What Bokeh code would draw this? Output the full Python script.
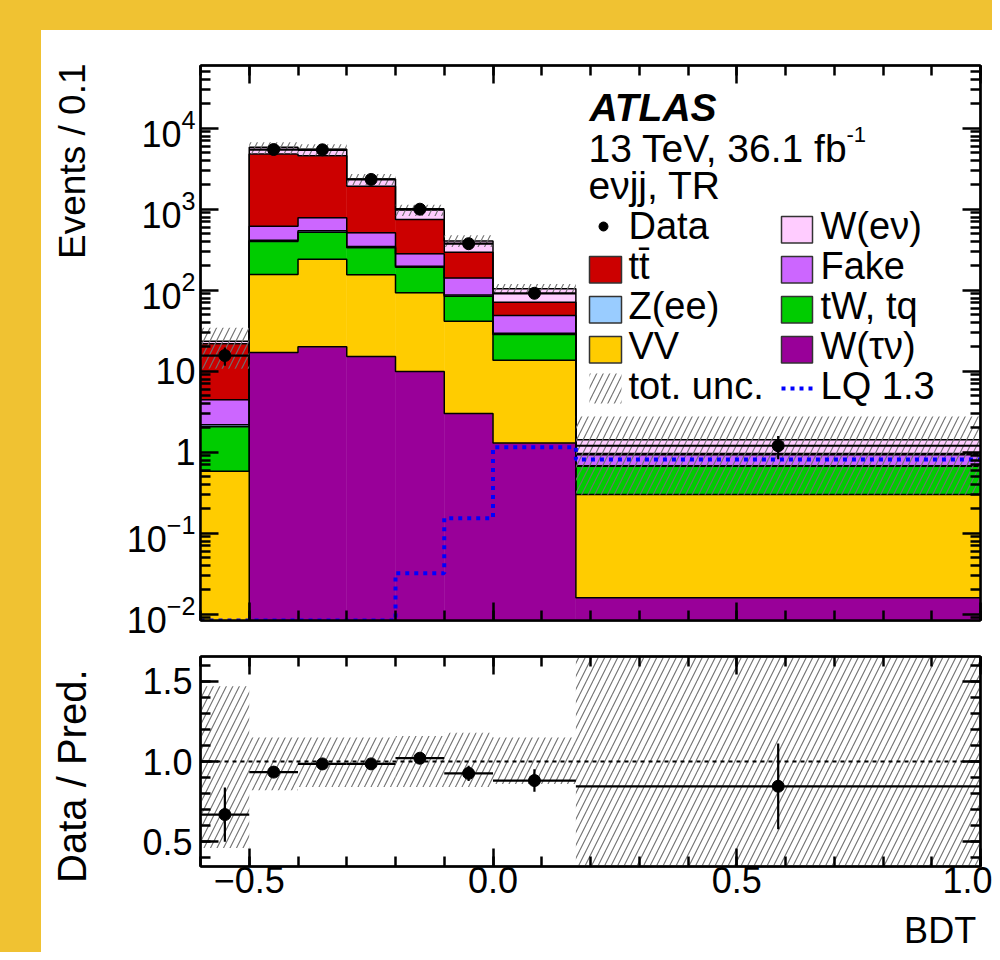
import numpy as np
from bokeh.plotting import figure
from bokeh.models import (FixedTicker, LogAxis, LinearAxis, Label, Span,
                          CustomJSTickFormatter, Spacer)
from bokeh.layouts import column, row
from bokeh.embed import file_html
from bokeh.resources import INLINE

FONT = "Liberation Sans"

# ---------------- data ----------------
bin_edges = [-0.6, -0.5, -0.4, -0.3, -0.2, -0.1, 0.0, 0.17, 1.0]
w_taunu = [0.0, 17.0, 20.0, 15.2, 9.9, 3.0, 1.3, 0.016]
vv      = [0.58, 139.0, 221.0, 140.0, 83.0, 38.4, 12.3, 0.284]
tw_tq   = [1.48, 242.0, 279.0, 179.0, 99.0, 42.6, 14.8, 0.37]
z_ee    = [0.12, 15.0, 20.0, 11.0, 6.0, 3.0, 0.9, 0.01]
fake    = [2.26, 204.0, 243.0, 165.0, 83.0, 54.0, 19.4, 0.25]
ttbar   = [17.4, 4200.0, 3780.0, 1410.0, 465.0, 153.0, 22.3, 0.03]
w_enu   = [1.5, 1020.0, 930.0, 445.0, 234.0, 111.0, 33.0, 0.46]
data     = [15.6, 5450.0, 5410.0, 2330.0, 1000.0, 375.0, 91.6, 1.2]
data_err = [3.95, 74.0, 74.0, 48.0, 32.0, 19.4, 7.3, 0.38]
unc_up = [0.47, 0.15, 0.15, 0.15, 0.16, 0.18, 0.15, 0.94]
unc_dn = [0.54, 0.18, 0.16, 0.16, 0.16, 0.16, 0.14, 0.79]
lq_13 = [0.0, 0.0, 0.0, 0.0, 0.032, 0.153, 1.15, 0.81]

names  = ["W(\u03c4\u03bd)", "VV", "tW, tq", "Z(ee)", "Fake", "tt\u0304", "W(e\u03bd)"]
colors = ["#990099", "#FFCC00", "#00CC00", "#99CCFF", "#CC66FF", "#CC0000", "#FFCCFF"]
stack  = [w_taunu, vv, tw_tq, z_ee, fake, ttbar, w_enu]

x_major = [-0.5, 0.0, 0.5, 1.0]
ratio_major = [0.5, 1.0, 1.5]

# ---------------- geometry (page pixels) ----------------
X0, X1 = -0.6, 1.0
LOG_TOP, LOG_BOT = 4.774, -2.078
R_TOP, R_BOT = 1.656, 0.344
MX0, MX1 = 200.0, 980.0          # frame left/right
MY0, MY1 = 65.0, 620.0           # main frame top/bottom
YEL = "#F0C232"
HATCH = dict(hatch_pattern="/", hatch_color="#707070", hatch_scale=13, hatch_weight=1.1)

PAGE_W, PAGE_H = 992, 952
TOP_BAR, LEFT_BAR, STRIP_W = 30, 41, 60
FIG_X = LEFT_BAR + STRIP_W                    # 101
FIG_W = PAGE_W - FIG_X                        # 891
BODY_H = PAGE_H - TOP_BAR                     # 922
MAIN_H = 35 + 555 + 22
RATIO_H = 14 + 210 + 41
BDT_H = BODY_H - MAIN_H - RATIO_H


def shift(size):
    # alphabetic baseline correction measured for this renderer
    return 0.31 * size


def dx(px):
    return X0 + (px - MX0) / (MX1 - MX0) * (X1 - X0)


def dy(py):
    return 10 ** (LOG_TOP - (py - MY0) / (MY1 - MY0) * (LOG_TOP - LOG_BOT))


def style_axis(ax, size="36px", standoff=8, labels=True):
    ax.axis_line_width = 2.5
    ax.axis_line_color = "black"
    ax.major_tick_in = 18
    ax.major_tick_out = 0
    ax.minor_tick_in = 10
    ax.minor_tick_out = 0
    ax.major_tick_line_width = 2.5
    ax.minor_tick_line_width = 2.5
    ax.major_tick_line_color = "black"
    ax.minor_tick_line_color = "black"
    ax.major_label_text_font = FONT
    ax.major_label_text_color = "black"
    ax.major_label_standoff = standoff
    if labels:
        ax.major_label_text_font_size = size
    else:
        ax.major_label_text_font_size = "0px"
        ax.formatter = CustomJSTickFormatter(code="return '';")


def blank_fig(w, h):
    f = figure(width=w, height=h, x_range=(0, w), y_range=(0, h),
               output_backend="svg", toolbar_location=None, min_border=0,
               x_axis_location=None, y_axis_location=None)
    f.grid.visible = False
    f.outline_line_color = None
    f.background_fill_color = "white"
    f.border_fill_color = "white"
    return f


left = np.array(bin_edges[:-1])
right = np.array(bin_edges[1:])
centers = (left + right) / 2.0
FLOOR = 1e-5

# ---------------- main panel ----------------
p = figure(width=FIG_W, height=MAIN_H, x_range=(X0, X1),
           y_range=(10 ** LOG_BOT, 10 ** LOG_TOP), y_axis_type="log",
           output_backend="svg", toolbar_location=None,
           min_border_left=int(MX0 - FIG_X), min_border_right=int(PAGE_W - MX1),
           min_border_top=35, min_border_bottom=22)
p.xgrid.visible = False
p.ygrid.visible = False
p.outline_line_color = "black"
p.outline_line_width = 2
p.background_fill_color = "white"
p.border_fill_color = "white"

xt = FixedTicker(ticks=x_major, minor_ticks=[round(X0 + 0.1 * i, 2) for i in range(17)])
yt = FixedTicker(ticks=[10.0 ** k for k in range(-2, 5)],
                 minor_ticks=[m * 10.0 ** k for k in range(-3, 5) for m in range(2, 10)])

p.xaxis.ticker = xt
p.yaxis.ticker = yt
style_axis(p.xaxis[0], labels=False)
style_axis(p.yaxis[0], size="36px", standoff=5)
p.yaxis[0].major_label_overrides = {1: "1", 10: "10"}
ax_r = LogAxis(ticker=yt)
style_axis(ax_r, labels=False)
p.add_layout(ax_r, "right")
ax_t = LinearAxis(ticker=xt)
style_axis(ax_t, labels=False)
p.add_layout(ax_t, "above")

cum = np.zeros(len(left))
tops = []
for vals, col in zip(stack, colors):
    top = cum + np.array(vals)
    p.quad(left=left, right=right, bottom=np.maximum(cum, FLOOR),
           top=np.maximum(top, FLOOR), fill_color=col, line_color=col, line_width=0.5)
    tops.append(top)
    cum = top
total = cum
for top in tops:
    yy = list(np.maximum(top, FLOOR))
    p.step(x=bin_edges, y=yy + [yy[-1]], mode="after", line_color="black", line_width=1.5)

# uncertainty band
p.quad(left=left, right=right, bottom=total * (1 - np.array(unc_dn)),
       top=total * (1 + np.array(unc_up)), fill_color="white", fill_alpha=0,
       line_color=None, **HATCH)

# signal
ymin = 10 ** LOG_BOT
lq_plot = list(np.maximum(np.array(lq_13), ymin))
p.step(x=bin_edges, y=lq_plot + [lq_plot[-1]], mode="after",
       line_color="#0000FF", line_width=4, line_dash="4 5")

# data
d = np.array(data)
de = np.array(data_err)
p.segment(x0=left, x1=right, y0=d, y1=d, line_color="black", line_width=2.2)
p.segment(x0=centers, x1=centers, y0=d - de, y1=d + de, line_color="black", line_width=2.2)
p.scatter(x=centers, y=d, size=12, color="black")


def lab(px, py, text, size=38, style="normal", align="left"):
    p.add_layout(Label(x=dx(px), y=dy(py - shift(size)), text=text, text_font=FONT,
                       text_font_size=f"{size}px", text_font_style=style, text_align=align,
                       text_baseline="alphabetic", text_color="black"))


lab(589, 119.5, "ATLAS", size=39, style="bold italic")
lab(588, 160, "13 TeV, 36.1 fb", size=39)
lab(846, 141, "-1", size=22)
lab(588, 197, "e\u03bdjj, TR", size=39)

# legend
rows_base = [237, 277, 317, 357, 397]
left_items = [("Data", None), (names[5], colors[5]), (names[3], colors[3]),
              (names[1], colors[1]), ("tot. unc.", "hatch")]
right_items = [(names[6], colors[6]), (names[4], colors[4]), (names[2], colors[2]),
               (names[0], colors[0]), ("LQ 1.3", "lq")]
for (txt, kind), base in zip(left_items, rows_base):
    if kind is None:
        p.scatter(x=[dx(603)], y=[dy(base - 11)], size=9, color="black")
    elif kind == "hatch":
        p.quad(left=[dx(589)], right=[dx(621)], top=[dy(base - 24)], bottom=[dy(base + 6)],
               fill_color="white", fill_alpha=0, line_color=None, **HATCH)
    else:
        p.quad(left=[dx(589)], right=[dx(621)], top=[dy(base - 21)], bottom=[dy(base + 5.5)],
               fill_color=kind, line_color="#333333", line_width=1.5)
    lab(628, base, txt)
for (txt, kind), base in zip(right_items, rows_base):
    if kind == "lq":
        p.line(x=[dx(781), dx(813)], y=[dy(base - 9)] * 2, line_color="#0000FF",
               line_width=4, line_dash="4 5")
    else:
        p.quad(left=[dx(781)], right=[dx(812)], top=[dy(base - 21)], bottom=[dy(base + 5.5)],
               fill_color=kind, line_color="#333333", line_width=1.5)
    lab(820, base, txt)

# ---------------- ratio panel ----------------
r = figure(width=FIG_W, height=RATIO_H, x_range=p.x_range, y_range=(R_BOT, R_TOP),
           output_backend="svg", toolbar_location=None,
           min_border_left=int(MX0 - FIG_X), min_border_right=int(PAGE_W - MX1),
           min_border_top=14, min_border_bottom=41)
r.xgrid.visible = False
r.ygrid.visible = False
r.outline_line_color = "black"
r.outline_line_width = 2
r.background_fill_color = "white"
r.border_fill_color = "white"

rt = FixedTicker(ticks=ratio_major, minor_ticks=[round(0.3 + 0.1 * i, 2) for i in range(15)])
r.xaxis.ticker = xt
r.yaxis.ticker = rt
style_axis(r.xaxis[0], size="36px", standoff=0)
r.xaxis[0].formatter = CustomJSTickFormatter(
    code="return (Math.abs(tick) < 1e-9 ? '0.0' : tick.toFixed(1)).replace('-', '\\u2212');")
style_axis(r.yaxis[0], size="36px", standoff=8)
r.yaxis[0].formatter = CustomJSTickFormatter(code="return tick.toFixed(1);")
rr = LinearAxis(ticker=rt)
style_axis(rr, labels=False)
r.add_layout(rr, "right")
rtop = LinearAxis(ticker=xt)
style_axis(rtop, labels=False)
r.add_layout(rtop, "above")

r.quad(left=left, right=right, bottom=1 - np.array(unc_dn), top=1 + np.array(unc_up),
       fill_color="white", fill_alpha=0, line_color=None, **HATCH)
r.add_layout(Span(location=1.0, dimension="width", line_color="black",
                  line_width=2, line_dash="4 4"))
ratio = d / total
ratio_err = de / total
r.segment(x0=left, x1=right, y0=ratio, y1=ratio, line_color="black", line_width=2.2)
r.segment(x0=centers, x1=centers, y0=ratio - ratio_err, y1=ratio + ratio_err,
          line_color="black", line_width=2.2)
r.scatter(x=centers, y=ratio, size=12, color="black")

# ---------------- axis titles (separate strips so they are not clipped) ----------------
strip = blank_fig(STRIP_W, BODY_H)


def strip_label(px, py, text, size):
    # rotated text: baseline at page x = px, text end at page y = py
    strip.add_layout(Label(x=px - shift(size) - LEFT_BAR, y=BODY_H - (py - TOP_BAR),
                           text=text, angle=np.pi / 2, text_align="right",
                           text_baseline="alphabetic", text_font=FONT,
                           text_font_size=f"{size}px", text_color="black"))


strip_label(83, 63, "Events / 0.1", 37)
strip_label(84, 669, "Data / Pred.", 40)

bdt = blank_fig(FIG_W, BDT_H)
bdt_top = TOP_BAR + MAIN_H + RATIO_H
bdt.add_layout(Label(x=987 - FIG_X, y=BDT_H - (941 - shift(36) - bdt_top), text="BDT",
                     text_align="right", text_baseline="alphabetic", text_font=FONT,
                     text_font_size="36px", text_color="black"))

# ---------------- page layout ----------------
top_bar = Spacer(width=PAGE_W, height=TOP_BAR, styles={"background-color": YEL})
left_bar = Spacer(width=LEFT_BAR, height=BODY_H, styles={"background-color": YEL})
layout = column(top_bar, row(left_bar, strip, column(p, r, bdt)))

open("out.html", "w").write(file_html(layout, INLINE))
